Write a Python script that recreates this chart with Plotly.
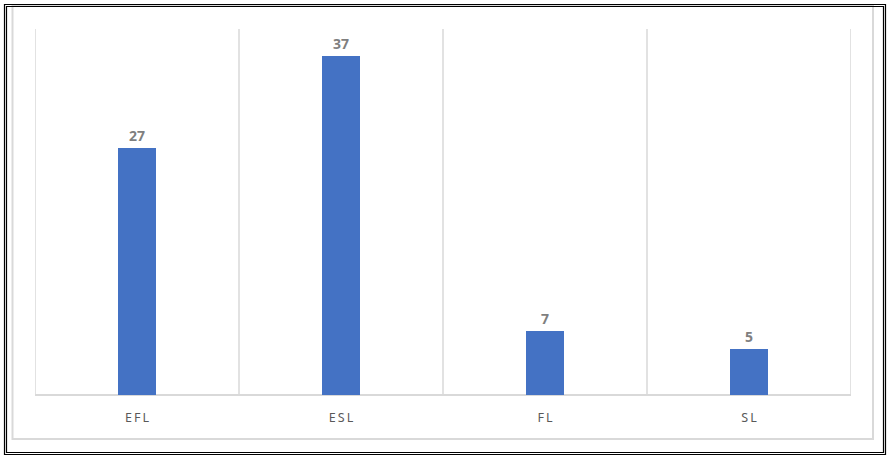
import plotly.graph_objects as go

categories = ["EFL", "ESL", "FL", "SL"]
values = [27, 37, 7, 5]
tick_labels = ["E\u2009F\u2009L", "E\u2009S\u2009L", "F\u2009L", "S\u2009L"]

W, H = 890, 459
L, R, T, B = 35, 39, 29, 64
PW, PH = W - L - R, H - T - B


def px(x):
    return (x - L) / PW


def py(y):
    return (H - B - y) / PH


fig = go.Figure(go.Bar(
    x=categories, y=values, width=0.186,
    marker=dict(color="#4472c4", line=dict(width=0)),
    text=[str(v) for v in values], textposition="outside",
    textfont=dict(family="Noto Sans", size=14, color="#7f7f7f", weight="bold"),
    cliponaxis=False, hoverinfo="skip",
))

shapes = []
for i in range(len(categories) + 1):
    shapes.append(dict(type="line", xref="x", yref="paper",
                       x0=i - 0.5, x1=i - 0.5, y0=0, y1=1,
                       line=dict(color="#d9d9d9", width=1.5), layer="below"))
shapes.append(dict(type="line", xref="paper", yref="paper", x0=0, x1=1, y0=0, y1=0,
                   line=dict(color="#d9d9d9", width=2), layer="below"))
# inner light frame
shapes.append(dict(type="rect", xref="paper", yref="paper",
                   x0=px(12.5), x1=px(873), y0=py(439), y1=py(6),
                   line=dict(color="#d9d9d9", width=2), layer="below"))
# outer double black frame
shapes.append(dict(type="rect", xref="paper", yref="paper",
                   x0=px(4.5), x1=px(885.5), y0=py(454.5), y1=py(4.5),
                   line=dict(color="black", width=1.2)))
shapes.append(dict(type="rect", xref="paper", yref="paper",
                   x0=px(6.5), x1=px(883.5), y0=py(452.5), y1=py(6.5),
                   line=dict(color="black", width=1.2)))

fig.update_layout(
    width=W, height=H,
    margin=dict(l=L, r=R, t=T, b=B),
    paper_bgcolor="white", plot_bgcolor="white",
    showlegend=False,
    shapes=shapes,
    xaxis=dict(range=[-0.5, len(categories) - 0.5], tickvals=categories,
               ticktext=tick_labels, showgrid=False, zeroline=False,
               showline=False, ticks="", ticklabelstandoff=13,
               tickfont=dict(family="Noto Sans", size=12.5, color="#595959")),
    yaxis=dict(range=[0, 40], visible=False, showgrid=False, zeroline=False),
    bargap=0,
)

fig.write_html("out.html", config={"displayModeBar": False},
               post_script="document.body.style.margin='0';document.body.style.overflow='hidden';")
